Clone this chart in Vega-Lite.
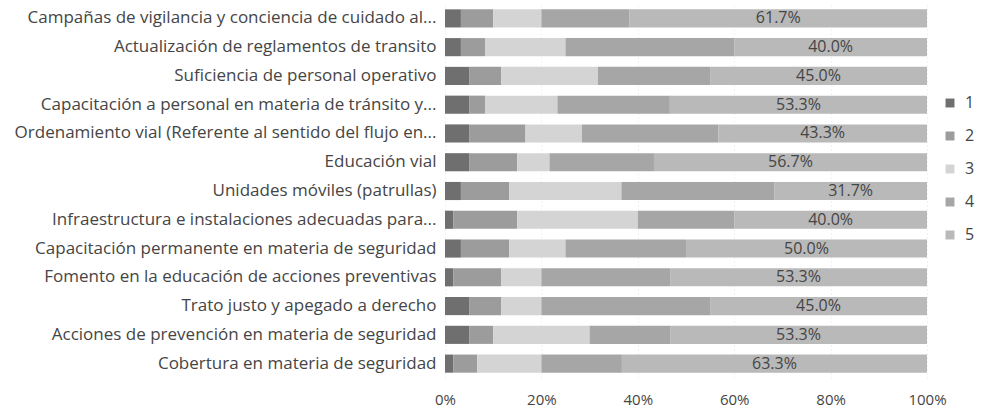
{
  "$schema": "https://vega.github.io/schema/vega-lite/v6.json",
  "width": 482,
  "height": 374,
  "padding": {"left": 5, "top": 4, "right": 5, "bottom": 0},
  "background": "white",
  "config": {
    "view": {"stroke": null},
    "font": "Open Sans",
    "axis": {"labelFont": "Open Sans", "labelColor": "#454545", "labelFontSize": 17}
  },
  "data": {
    "values": [
      {"item": "Campañas de vigilancia y conciencia de cuidado al...", "cat": "1", "v": 0.033},
      {"item": "Campañas de vigilancia y conciencia de cuidado al...", "cat": "2", "v": 0.067},
      {"item": "Campañas de vigilancia y conciencia de cuidado al...", "cat": "3", "v": 0.100},
      {"item": "Campañas de vigilancia y conciencia de cuidado al...", "cat": "4", "v": 0.183},
      {"item": "Campañas de vigilancia y conciencia de cuidado al...", "cat": "5", "v": 0.617},
      {"item": "Actualización de reglamentos de transito", "cat": "1", "v": 0.033},
      {"item": "Actualización de reglamentos de transito", "cat": "2", "v": 0.050},
      {"item": "Actualización de reglamentos de transito", "cat": "3", "v": 0.167},
      {"item": "Actualización de reglamentos de transito", "cat": "4", "v": 0.350},
      {"item": "Actualización de reglamentos de transito", "cat": "5", "v": 0.400},
      {"item": "Suficiencia de personal operativo", "cat": "1", "v": 0.050},
      {"item": "Suficiencia de personal operativo", "cat": "2", "v": 0.067},
      {"item": "Suficiencia de personal operativo", "cat": "3", "v": 0.200},
      {"item": "Suficiencia de personal operativo", "cat": "4", "v": 0.233},
      {"item": "Suficiencia de personal operativo", "cat": "5", "v": 0.450},
      {"item": "Capacitación a personal en materia de tránsito y...", "cat": "1", "v": 0.050},
      {"item": "Capacitación a personal en materia de tránsito y...", "cat": "2", "v": 0.033},
      {"item": "Capacitación a personal en materia de tránsito y...", "cat": "3", "v": 0.150},
      {"item": "Capacitación a personal en materia de tránsito y...", "cat": "4", "v": 0.233},
      {"item": "Capacitación a personal en materia de tránsito y...", "cat": "5", "v": 0.533},
      {"item": "Ordenamiento vial (Referente al sentido del flujo en...", "cat": "1", "v": 0.050},
      {"item": "Ordenamiento vial (Referente al sentido del flujo en...", "cat": "2", "v": 0.117},
      {"item": "Ordenamiento vial (Referente al sentido del flujo en...", "cat": "3", "v": 0.117},
      {"item": "Ordenamiento vial (Referente al sentido del flujo en...", "cat": "4", "v": 0.283},
      {"item": "Ordenamiento vial (Referente al sentido del flujo en...", "cat": "5", "v": 0.433},
      {"item": "Educación vial", "cat": "1", "v": 0.050},
      {"item": "Educación vial", "cat": "2", "v": 0.100},
      {"item": "Educación vial", "cat": "3", "v": 0.067},
      {"item": "Educación vial", "cat": "4", "v": 0.217},
      {"item": "Educación vial", "cat": "5", "v": 0.567},
      {"item": "Unidades móviles (patrullas)", "cat": "1", "v": 0.033},
      {"item": "Unidades móviles (patrullas)", "cat": "2", "v": 0.100},
      {"item": "Unidades móviles (patrullas)", "cat": "3", "v": 0.233},
      {"item": "Unidades móviles (patrullas)", "cat": "4", "v": 0.317},
      {"item": "Unidades móviles (patrullas)", "cat": "5", "v": 0.317},
      {"item": "Infraestructura e instalaciones adecuadas para...", "cat": "1", "v": 0.017},
      {"item": "Infraestructura e instalaciones adecuadas para...", "cat": "2", "v": 0.133},
      {"item": "Infraestructura e instalaciones adecuadas para...", "cat": "3", "v": 0.250},
      {"item": "Infraestructura e instalaciones adecuadas para...", "cat": "4", "v": 0.200},
      {"item": "Infraestructura e instalaciones adecuadas para...", "cat": "5", "v": 0.400},
      {"item": "Capacitación permanente en materia de seguridad", "cat": "1", "v": 0.033},
      {"item": "Capacitación permanente en materia de seguridad", "cat": "2", "v": 0.100},
      {"item": "Capacitación permanente en materia de seguridad", "cat": "3", "v": 0.117},
      {"item": "Capacitación permanente en materia de seguridad", "cat": "4", "v": 0.250},
      {"item": "Capacitación permanente en materia de seguridad", "cat": "5", "v": 0.500},
      {"item": "Fomento en la educación de acciones preventivas", "cat": "1", "v": 0.017},
      {"item": "Fomento en la educación de acciones preventivas", "cat": "2", "v": 0.100},
      {"item": "Fomento en la educación de acciones preventivas", "cat": "3", "v": 0.083},
      {"item": "Fomento en la educación de acciones preventivas", "cat": "4", "v": 0.267},
      {"item": "Fomento en la educación de acciones preventivas", "cat": "5", "v": 0.533},
      {"item": "Trato justo y apegado a derecho", "cat": "1", "v": 0.050},
      {"item": "Trato justo y apegado a derecho", "cat": "2", "v": 0.067},
      {"item": "Trato justo y apegado a derecho", "cat": "3", "v": 0.083},
      {"item": "Trato justo y apegado a derecho", "cat": "4", "v": 0.350},
      {"item": "Trato justo y apegado a derecho", "cat": "5", "v": 0.450},
      {"item": "Acciones de prevención en materia de seguridad", "cat": "1", "v": 0.050},
      {"item": "Acciones de prevención en materia de seguridad", "cat": "2", "v": 0.050},
      {"item": "Acciones de prevención en materia de seguridad", "cat": "3", "v": 0.200},
      {"item": "Acciones de prevención en materia de seguridad", "cat": "4", "v": 0.167},
      {"item": "Acciones de prevención en materia de seguridad", "cat": "5", "v": 0.533},
      {"item": "Cobertura en materia de seguridad", "cat": "1", "v": 0.017},
      {"item": "Cobertura en materia de seguridad", "cat": "2", "v": 0.050},
      {"item": "Cobertura en materia de seguridad", "cat": "3", "v": 0.133},
      {"item": "Cobertura en materia de seguridad", "cat": "4", "v": 0.167},
      {"item": "Cobertura en materia de seguridad", "cat": "5", "v": 0.633}
    ]
  },
  "transform": [
    {"stack": "v", "groupby": ["item"], "sort": [{"field": "cat", "order": "ascending"}], "offset": "normalize", "as": ["x0", "x1"]},
    {"calculate": "(datum.x0 + datum.x1) / 2", "as": "xm"}
  ],
  "encoding": {
    "y": {
      "field": "item", "type": "nominal", "sort": null, "title": null,
      "scale": {"paddingInner": 0.37, "paddingOuter": 0.185},
      "axis": {"domain": false, "ticks": false, "labelPadding": 9, "labelLimit": 0, "minExtent": 440, "maxExtent": 440}
    }
  },
  "layer": [
    {
      "mark": {"type": "bar"},
      "encoding": {
        "x": {
          "field": "x0", "type": "quantitative", "title": null,
          "scale": {"domain": [0, 1], "nice": false},
          "axis": {"format": "%", "values": [0, 0.2, 0.4, 0.6, 0.8, 1], "labelOverlap": false, "labelBound": false, "labelFlush": false, "labelFontSize": 15, "domain": false, "ticks": false, "labelPadding": 14, "grid": true, "gridColor": "#e4e4e4", "gridDash": [1, 3]}
        },
        "x2": {"field": "x1"},
        "color": {
          "field": "cat", "type": "nominal", "title": null,
          "scale": {"domain": ["1", "2", "3", "4", "5"], "range": ["#6f6f6f", "#9c9c9c", "#d4d4d4", "#a6a6a6", "#b9b9b9"]},
          "legend": {
            "orient": "none", "legendX": 497, "legendY": 91,
            "symbolType": "square", "symbolSize": 80, "symbolStrokeWidth": 0,
            "labelFontSize": 16, "labelColor": "#454545", "labelFont": "Open Sans",
            "rowPadding": 17, "labelOffset": 7
          }
        }
      }
    },
    {
      "transform": [{"filter": "datum.cat == '5'"}],
      "mark": {"type": "text", "fontSize": 16, "color": "#454545", "font": "Open Sans"},
      "encoding": {
        "x": {"field": "xm", "type": "quantitative"},
        "text": {"field": "v", "type": "quantitative", "format": ".1%"}
      }
    }
  ]
}
